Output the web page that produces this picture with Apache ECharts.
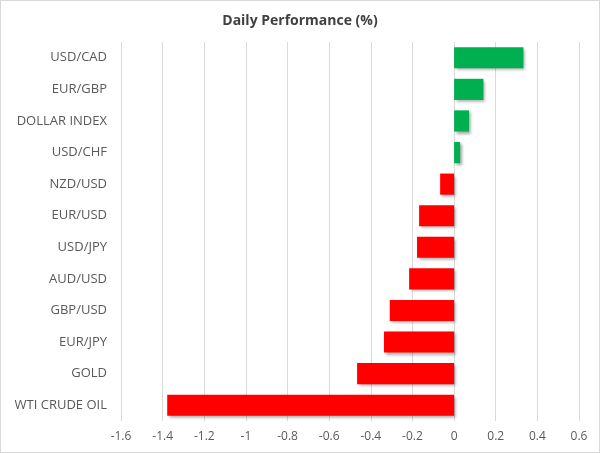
<!DOCTYPE html>
<html><head><meta charset="utf-8">
<script src="https://cdn.jsdelivr.net/npm/echarts@6/dist/echarts.min.js"></script>
<style>
html,body{margin:0;padding:0;background:#fff;}
#c{position:absolute;left:0;top:0;width:598px;height:451px;border:1px solid #d9d9d9;}
</style></head>
<body><div id="c"></div>
<script>
const categories = ["USD/CAD","EUR/GBP","DOLLAR INDEX","USD/CHF","NZD/USD","EUR/USD","USD/JPY","AUD/USD","GBP/USD","EUR/JPY","GOLD","WTI CRUDE OIL"];
const values = [0.333, 0.141, 0.072, 0.029, -0.067, -0.168, -0.178, -0.216, -0.309, -0.337, -0.466, -1.378];
const xTicks = {min: -1.6, max: 0.6, interval: 0.2};

const chart = echarts.init(document.getElementById('c'), null, {renderer:'canvas'});
chart.setOption({
  animation:false,
  title:{text:'Daily Performance (%)', left:'center', top:8,
    textStyle:{fontFamily:'Open Sans', fontSize:14, fontWeight:'bold', color:'#404040'}},
  grid:{left:120, right:20, top:41, bottom:31, containLabel:false},
  xAxis:{type:'value', min:xTicks.min, max:xTicks.max, interval:xTicks.interval,
    axisLine:{show:false}, axisTick:{show:false},
    splitLine:{show:true, lineStyle:{color:'#d9d9d9', width:1}},
    axisLabel:{fontFamily:'Open Sans', fontSize:12, color:'#595959', margin:10,
      formatter: v => String(Math.round(v*10)/10)}},
  yAxis:{type:'category', data:categories, inverse:true,
    axisLine:{show:false}, axisTick:{show:false}, splitLine:{show:false},
    axisLabel:{fontFamily:'Open Sans', fontSize:13, color:'#595959', margin:14}},
  series:[{type:'bar', barCategoryGap:'33%',
    data: values.map(v => ({value:v, itemStyle:{color: v>=0 ? '#00b050' : '#ff0000'}})),
    itemStyle:{shadowColor:'rgba(0,0,0,0.35)', shadowBlur:3, shadowOffsetX:2, shadowOffsetY:2}
  }]
});
</script></body></html>
